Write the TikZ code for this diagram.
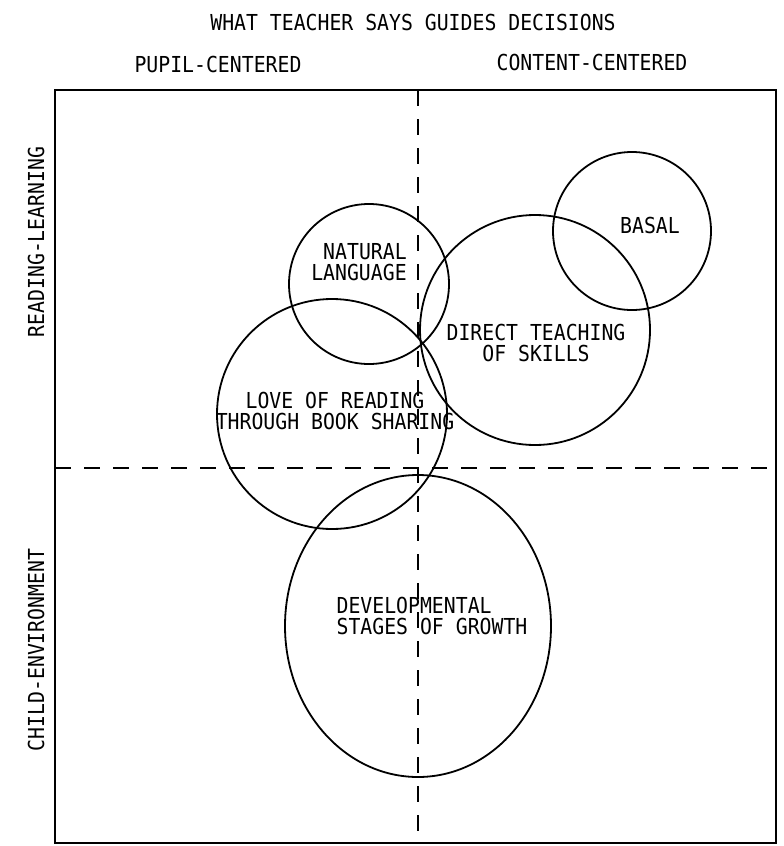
\documentclass[tikz,border=0pt]{standalone}
\usepackage{fontspec}
\newfontfamily\lettering[FakeStretch=0.9]{DejaVu Sans Mono}
\tikzset{
  ring/.style={draw, line width=1.8pt},
  frame/.style={draw, line width=1.9pt},
  divider/.style={dash pattern=on 16pt off 13pt, line width=1.4pt},
  tag/.style={font=\lettering\fontsize{22}{21}\selectfont, inner sep=0pt},
}
\begin{document}
\begin{tikzpicture}[x=1pt,y=-1pt]
  \useasboundingbox (0,0) rectangle (784,846);
  % frame and quadrants
  \coordinate (nw) at (55,90);
  \coordinate (se) at (776,843);
  \coordinate (vtop) at (418,90);
  \coordinate (vbot) at (418,843);
  \coordinate (hleft) at (55,468);
  \coordinate (hright) at (776,468);
  \draw[frame] (nw) rectangle (se);
  \draw[divider] (vtop) -- (vbot);
  \draw[divider] (hleft) -- (hright);

  % headings
  \node (title) [tag] at (413,22) {WHAT TEACHER SAYS GUIDES DECISIONS};
  \node (pupil) [tag] at (218,64) {PUPIL-CENTERED};
  \node (content) [tag] at (592,62) {CONTENT-CENTERED};
  \node (reading) [tag, rotate=90] at (36,242) {READING-LEARNING};
  \node (child) [tag, rotate=90] at (36,650) {CHILD-ENVIRONMENT};

  % overlapping circles
  \draw[ring] (369,284) circle (80pt);
  \draw[ring] (332,414) circle (115pt);
  \draw[ring] (535,330) circle (115pt);
  \draw[ring] (632,231) circle (79pt);
  \draw[ring] (418,626) ellipse [x radius=133pt, y radius=151pt];

  \node (natlang) [tag, align=right] at (359,262) {NATURAL\\LANGUAGE};
  \node (love) [tag, align=center] at (335,411) {LOVE OF READING\\THROUGH BOOK SHARING};
  \node (direct) [tag, align=center] at (536,343) {DIRECT TEACHING\\OF SKILLS};
  \node (basal) [tag] at (650,225) {BASAL};
  \node (growth) [tag, align=left] at (432,616) {DEVELOPMENTAL\\STAGES OF GROWTH};
\end{tikzpicture}
\end{document}
